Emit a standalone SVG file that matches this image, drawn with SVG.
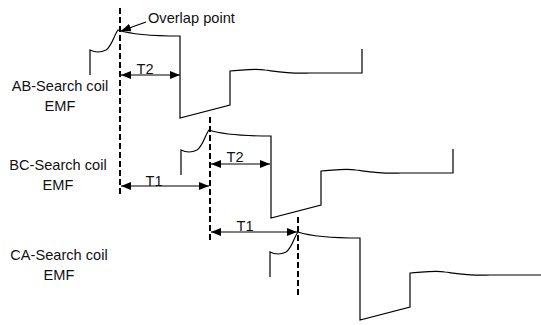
<svg xmlns="http://www.w3.org/2000/svg" width="541" height="325" viewBox="0 0 541 325">
<style>
.wave{fill:none;stroke:#000;stroke-width:1.2;stroke-linejoin:miter}
.dash{fill:none;stroke:#000;stroke-width:2;stroke-dasharray:6,3}
.dim{fill:none;stroke:#000;stroke-width:1.2}
.t{font-family:"Liberation Sans",Arial,sans-serif;font-size:14.6px;fill:#111}
.m{text-anchor:middle}
</style>
<defs>
<marker id="ah" viewBox="0 0 10 8" refX="10" refY="4" markerWidth="10" markerHeight="8" markerUnits="userSpaceOnUse" orient="auto-start-reverse">
<path d="M0,0 L10,4 L0,8 z" fill="#000"/>
</marker>
<path id="wf" d="M90,75 L90,50 C94,52 100,53 106,50 C112,46 114,35 118,30 C130,34 150,36 180,36 L180,118 L230,105 L230,71 C245,70 255,68 265,70 C280,72 290,74 310,73 L362,73 L362,49"/>
</defs>
<g id="ab-wave"><use href="#wf" class="wave"/></g>
<g id="bc-wave"><use href="#wf" class="wave" transform="translate(91,100)"/></g>
<g id="ca-wave"><use href="#wf" class="wave" transform="translate(180,202)"/></g>
<g id="markers">
<line class="dash" x1="120" y1="8" x2="120" y2="196"/>
<line class="dash" x1="210" y1="117" x2="210" y2="241"/>
<line class="dash" x1="298" y1="217" x2="298" y2="297"/>
</g>
<g id="connectors">
<line class="dim" x1="121" y1="75" x2="180" y2="75" marker-start="url(#ah)" marker-end="url(#ah)"/>
<line class="dim" x1="121" y1="186" x2="209" y2="186" marker-start="url(#ah)" marker-end="url(#ah)"/>
<line class="dim" x1="211" y1="164" x2="270" y2="164" marker-start="url(#ah)" marker-end="url(#ah)"/>
<line class="dim" x1="211" y1="232" x2="297" y2="232" marker-start="url(#ah)" marker-end="url(#ah)"/>
<line class="dim" x1="146" y1="22" x2="121" y2="31" marker-end="url(#ah)"/>
</g>
<g id="labels">
<text class="t" x="148" y="23">Overlap point</text>
<text class="t m" x="145" y="74">T2</text>
<text class="t m" x="235" y="162">T2</text>
<text class="t m" x="154" y="186">T1</text>
<text class="t m" x="245" y="231">T1</text>
</g>
<g id="ab-label"><text class="t m" x="60" y="91">AB-Search coil</text><text class="t m" x="60" y="111">EMF</text></g>
<g id="bc-label"><text class="t m" x="58" y="170">BC-Search coil</text><text class="t m" x="58" y="190">EMF</text></g>
<g id="ca-label"><text class="t m" x="59" y="260">CA-Search coil</text><text class="t m" x="59" y="280">EMF</text></g>
</svg>
